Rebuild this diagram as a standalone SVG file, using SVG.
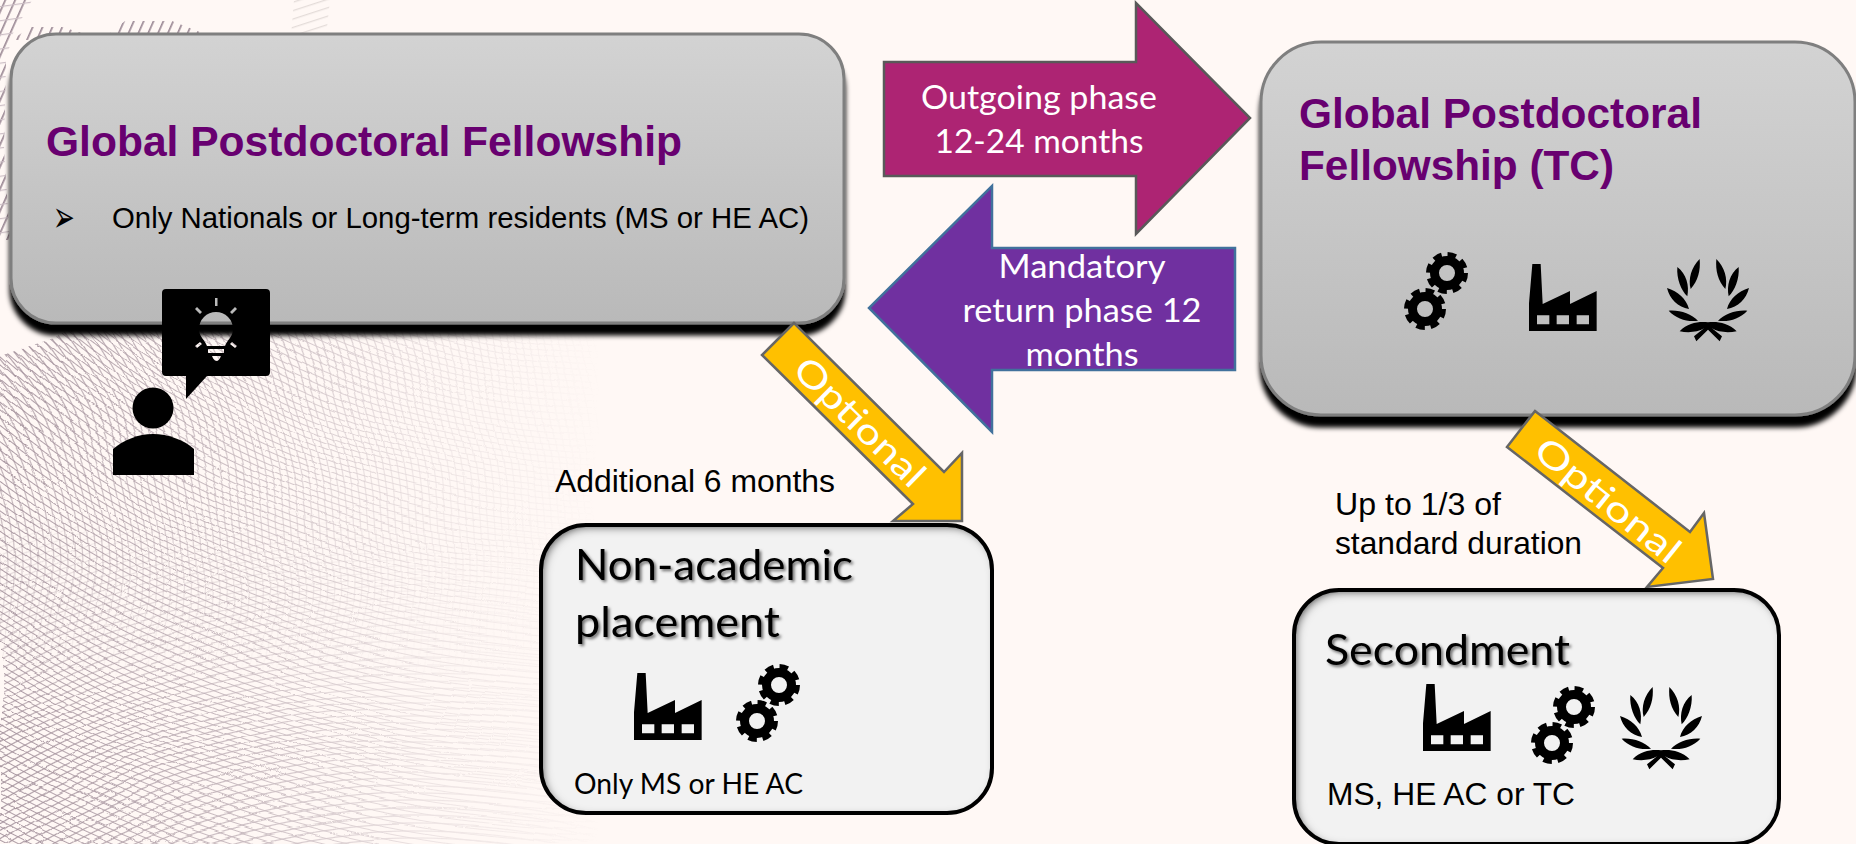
<svg xmlns="http://www.w3.org/2000/svg" xmlns:xlink="http://www.w3.org/1999/xlink" width="1856" height="844" viewBox="0 0 1856 844">
<style>
.ar{font-family:"Liberation Sans",Arial,sans-serif}
.la{font-family:Lato,"Open Sans",sans-serif}
.tt{font-family:"Liberation Sans",Arial,sans-serif;font-weight:700;font-size:42.67px;fill:#680070}
.wh{fill:#fff;font-family:Lato,"Open Sans",sans-serif}
.big{stroke:#7f7f7f;stroke-width:3;fill:url(#boxg)}
.sm{fill:#f2f2f2}
.smo{fill:none;stroke:#000;stroke-width:4}
.opt{fill:#ffc000;stroke:#666;stroke-width:2.5}
</style>
<defs>
<linearGradient id="boxg" x1="0" y1="0" x2="0" y2="1"><stop offset="0" stop-color="#d3d3d3"/><stop offset="1" stop-color="#b9b9b9"/></linearGradient>
<radialGradient id="ra" gradientUnits="userSpaceOnUse" cx="620" cy="-350" r="6" spreadMethod="repeat"><stop offset="0" stop-color="#8a7583" stop-opacity="0"/><stop offset=".55" stop-color="#8a7583" stop-opacity="0"/><stop offset=".72" stop-color="#8a7583" stop-opacity=".9"/><stop offset=".88" stop-color="#8a7583" stop-opacity="0"/><stop offset="1" stop-color="#8a7583" stop-opacity="0"/></radialGradient>
<radialGradient id="rb" gradientUnits="userSpaceOnUse" cx="-250" cy="570" r="7" spreadMethod="repeat"><stop offset="0" stop-color="#8a7583" stop-opacity="0"/><stop offset=".55" stop-color="#8a7583" stop-opacity="0"/><stop offset=".72" stop-color="#8a7583" stop-opacity=".9"/><stop offset=".88" stop-color="#8a7583" stop-opacity="0"/><stop offset="1" stop-color="#8a7583" stop-opacity="0"/></radialGradient>
<radialGradient id="rc" gradientUnits="userSpaceOnUse" cx="420" cy="1500" r="7" spreadMethod="repeat"><stop offset="0" stop-color="#8a7583" stop-opacity="0"/><stop offset=".55" stop-color="#8a7583" stop-opacity="0"/><stop offset=".72" stop-color="#8a7583" stop-opacity=".9"/><stop offset=".88" stop-color="#8a7583" stop-opacity="0"/><stop offset="1" stop-color="#8a7583" stop-opacity="0"/></radialGradient>
<linearGradient id="fx" gradientUnits="userSpaceOnUse" x1="0" y1="0" x2="600" y2="0"><stop offset="0" stop-color="#fff" stop-opacity=".8"/><stop offset=".4" stop-color="#fff" stop-opacity=".5"/><stop offset=".72" stop-color="#fff" stop-opacity=".18"/><stop offset="1" stop-color="#fff" stop-opacity="0"/></linearGradient>
<linearGradient id="fb" gradientUnits="userSpaceOnUse" x1="0" y1="330" x2="0" y2="680"><stop offset="0" stop-color="#fff"/><stop offset=".6" stop-color="#fff" stop-opacity=".6"/><stop offset="1" stop-color="#fff" stop-opacity="0"/></linearGradient>
<linearGradient id="fc" gradientUnits="userSpaceOnUse" x1="0" y1="500" x2="0" y2="740"><stop offset="0" stop-color="#fff" stop-opacity="0"/><stop offset="1" stop-color="#fff"/></linearGradient>
<mask id="mx" maskUnits="userSpaceOnUse" x="0" y="300" width="640" height="544"><rect x="0" y="300" width="640" height="544" fill="url(#fx)"/></mask>
<mask id="mb" maskUnits="userSpaceOnUse" x="0" y="300" width="640" height="544"><rect x="0" y="300" width="640" height="544" fill="url(#fb)"/></mask>
<mask id="mc" maskUnits="userSpaceOnUse" x="0" y="300" width="640" height="544"><rect x="0" y="300" width="640" height="544" fill="url(#fc)"/></mask>
<clipPath id="top"><path d="M0 356 L54 338 L80 322 H640 V844 H0Z"/></clipPath>
<filter id="wave" filterUnits="userSpaceOnUse" x="0" y="300" width="640" height="544"><feTurbulence type="fractalNoise" baseFrequency=".006 .011" numOctaves="1" seed="4" result="n"/><feDisplacementMap in="SourceGraphic" in2="n" scale="24" xChannelSelector="R" yChannelSelector="G"/></filter>
<pattern id="h1" patternUnits="userSpaceOnUse" width="9" height="9" patternTransform="rotate(24)"><rect x="4" width="1.7" height="9" fill="#9c8a96"/></pattern>
<pattern id="h2" patternUnits="userSpaceOnUse" width="8" height="8" patternTransform="rotate(-18)"><rect y="4" width="8" height="1.3" fill="#e4dcd9"/></pattern>
<pattern id="h3" patternUnits="userSpaceOnUse" width="14" height="14" patternTransform="rotate(-8)"><rect y="6" width="14" height="1.2" fill="#cdbfc6"/></pattern>
<filter id="sh" x="-5%" y="-5%" width="110%" height="115%"><feGaussianBlur in="SourceAlpha" stdDeviation="2.500"/><feOffset dy="11"/><feMerge><feMergeNode/><feMergeNode in="SourceGraphic"/></feMerge></filter>
<filter id="ins" x="-5%" y="-5%" width="110%" height="110%"><feComponentTransfer in="SourceAlpha"><feFuncA type="table" tableValues="1 0"/></feComponentTransfer><feGaussianBlur stdDeviation="4"/><feOffset dx="3" dy="3"/><feComposite in2="SourceAlpha" operator="in" result="s"/><feMerge><feMergeNode in="SourceGraphic"/><feMergeNode in="s"/></feMerge></filter>
<filter id="ts" x="-5%" y="-10%" width="110%" height="130%"><feDropShadow dx="2" dy="2" stdDeviation="1.5" flood-color="#000" flood-opacity=".55"/></filter>
<g id="gear"><circle r="12.500" fill="none" stroke="#000" stroke-width="9"/><circle r="18.500" fill="none" stroke="#000" stroke-width="5" stroke-dasharray="8.6 5.93"/></g>
<g id="gears"><use href="#gear" x="22" y="-36"/><use href="#gear"/></g>
<path id="factory" transform="scale(.3333) translate(-417 -72)" fill-rule="evenodd" d="M427 72H452L458 192L540 153V192L620 153V273H417V190ZM441 226V253H478V226ZM500 226V253H537V226ZM560 226V253H597V226Z"/>
<path id="lh" d="M-25 0C-50 25-60 60-52 90C-30 65-22 35-25 0ZM-92 24C-95 60-80 95-62 112C-55 80-65 45-92 24ZM-123 87C-115 120-90 145-57 150C-65 120-90 97-123 87ZM-118 155C-95 180-60 190-30 185C-50 165-85 152-118 155Z"/>
<g id="laurel" transform="scale(.3333)"><use href="#lh"/><use href="#lh" transform="scale(-1 1)"/><path d="M-85 217C-60 190-25 187 0 190C25 187 60 190 86 217C60 222 30 220 12 208L42 232L35 247L0 212L-35 247L-42 232L-12 208C-30 220-60 222-85 217Z"/></g>
</defs>
<rect width="1856" height="844" fill="#fff8f5"/>
<g id="background">
<path fill="url(#h1)" d="M0 0H32L26 12L14 30L6 60L4 150L10 240H0Z"/>
<path fill="url(#h3)" d="M0 0H32L26 12L14 30L6 60L4 150L10 240H0Z"/>
<path fill="url(#h1)" d="M12 40L30 27H62L92 36V40Z"/>
<path fill="url(#h1)" d="M106 36L125 21H172L210 36Z"/>
<path fill="url(#h2)" d="M291 36L294 0H330L326 36Z"/>
<g clip-path="url(#top)"><g filter="url(#wave)"><g mask="url(#mx)">
<rect x="0" y="300" width="640" height="544" fill="url(#ra)"/>
<g mask="url(#mb)"><rect x="0" y="300" width="640" height="544" fill="url(#rb)"/></g>
<g mask="url(#mc)"><rect x="0" y="300" width="640" height="544" fill="url(#rc)"/></g>
</g></g></g>
</g>
<g id="connectors">
<g id="arrow-outgoing">
<path d="M884 62H1136V3L1250 118L1136 234V176H884Z" fill="#ad2473" stroke="#595959" stroke-width="2.5"/>
<text class="wh" font-size="32" x="1039" y="109" text-anchor="middle" textLength="236" lengthAdjust="spacingAndGlyphs">Outgoing phase</text>
<text class="wh" font-size="32" x="1039" y="153" text-anchor="middle" textLength="209" lengthAdjust="spacingAndGlyphs">12-24 months</text>
</g>
<g id="arrow-return">
<path d="M1235 248H992V186L869 308L992 432V370H1235Z" fill="#7030a0" stroke="#41719c" stroke-width="2.5"/>
<text class="wh" font-size="32" x="1082" y="278" text-anchor="middle" textLength="167" lengthAdjust="spacingAndGlyphs">Mandatory</text>
<text class="wh" font-size="32" x="1082" y="322" text-anchor="middle" textLength="239" lengthAdjust="spacingAndGlyphs">return phase 12</text>
<text class="wh" font-size="32" x="1082" y="366" text-anchor="middle" textLength="113" lengthAdjust="spacingAndGlyphs">months</text>
</g>
</g>
<g id="node-gpf">
<rect class="big" x="11" y="34" width="833" height="289" rx="45" filter="url(#sh)"/>
<text class="tt" x="46" y="156" textLength="636" lengthAdjust="spacingAndGlyphs">Global Postdoctoral Fellowship</text>
<text font-family="'DejaVu Sans',sans-serif" font-size="26" transform="translate(53 232) scale(1 1.700)">➢</text>
<text class="ar" font-size="29.330" x="112" y="228" textLength="697" lengthAdjust="spacingAndGlyphs">Only Nationals or Long-term residents (MS or HE AC)</text>
</g>
<g id="node-gpf-tc">
<rect class="big" x="1261" y="42" width="594" height="373" rx="60" filter="url(#sh)"/>
<text class="tt" x="1299" y="128" textLength="403" lengthAdjust="spacingAndGlyphs">Global Postdoctoral</text>
<text class="tt" x="1299" y="180" textLength="315" lengthAdjust="spacingAndGlyphs">Fellowship (TC)</text>
<use href="#gears" x="1425" y="309"/>
<use href="#factory" transform="translate(1529 264)"/>
<use href="#laurel" transform="translate(1708 259)"/>
</g>
<g id="arrow-optional-a">
<path class="opt" d="M794 323L762 355L913 504L893 521H962V453L944 472Z"/>
<text class="wh" font-size="36" transform="translate(851 431) rotate(44.5)" text-anchor="middle" textLength="168" lengthAdjust="spacingAndGlyphs">Optional</text>
</g>
<g id="arrow-optional-b">
<path class="opt" d="M1535 411L1507 447L1663 568L1647 587L1713 579L1704 513L1690 532Z"/>
<text class="wh" font-size="36" transform="translate(1600 510) rotate(39)" text-anchor="middle" textLength="176" lengthAdjust="spacingAndGlyphs">Optional</text>
</g>
<g id="node-person">
<path fill="#000" fill-rule="evenodd" d="M166 289H266a4 4 0 0 1 4 4V372a4 4 0 0 1-4 4H207L186 399V376H166a4 4 0 0 1-4-4V293a4 4 0 0 1 4-4ZM216 312a17 17 0 0 0-17 17c0 8 6 11 8 17h18c2-6 8-9 8-17a17 17 0 0 0-17-17ZM208 349V353H224V349ZM212 356C213 359 215 361 216.500 361C218 361 220 359 221 356ZM215 298V306H217.500V298ZM197 307L195 309L200 314L202 312ZM235 307L230 312L232 314L237 309ZM200 342L195 346L197 348L202 344ZM232 342L230 344L235 348L237 346Z"/>
<circle cx="153" cy="408" r="20.500" fill="#000"/>
<path fill="#000" d="M113 475V449C124 440 138 434 153 434C168 434 184 440 194 449V475Z"/>
</g>
<g id="label-additional"><text class="ar" font-size="32" x="555" y="492" textLength="280" lengthAdjust="spacingAndGlyphs">Additional 6 months</text></g>
<g id="label-duration">
<text class="ar" font-size="32" x="1335" y="515" textLength="166" lengthAdjust="spacingAndGlyphs">Up to 1/3 of</text>
<text class="ar" font-size="32" x="1335" y="554" textLength="247" lengthAdjust="spacingAndGlyphs">standard duration</text>
</g>
<g id="node-nonacademic">
<rect class="sm" x="541" y="525" width="451" height="288" rx="45" filter="url(#ins)"/>
<rect class="smo" x="541" y="525" width="451" height="288" rx="45"/>
<g filter="url(#ts)" font-size="42"><text class="la" x="575" y="580" textLength="278" lengthAdjust="spacingAndGlyphs">Non-academic</text>
<text class="la" x="575" y="637" textLength="205" lengthAdjust="spacingAndGlyphs">placement</text></g>
<use href="#factory" transform="translate(634 673)"/>
<use href="#gears" x="757" y="721"/>
<text class="la" font-size="28" x="574" y="794" textLength="229" lengthAdjust="spacingAndGlyphs">Only MS or HE AC</text>
</g>
<g id="node-secondment">
<rect class="sm" x="1294" y="590" width="485" height="254" rx="45" filter="url(#ins)"/>
<rect class="smo" x="1294" y="590" width="485" height="254" rx="45"/>
<g filter="url(#ts)"><text class="la" font-size="42" x="1325" y="665" textLength="245" lengthAdjust="spacingAndGlyphs">Secondment</text></g>
<use href="#factory" transform="translate(1423 684)"/>
<use href="#gears" x="1552" y="743"/>
<use href="#laurel" transform="translate(1661 687)"/>
<text class="ar" font-size="32" x="1327" y="805" textLength="248" lengthAdjust="spacingAndGlyphs">MS, HE AC or TC</text>
</g>
</svg>
